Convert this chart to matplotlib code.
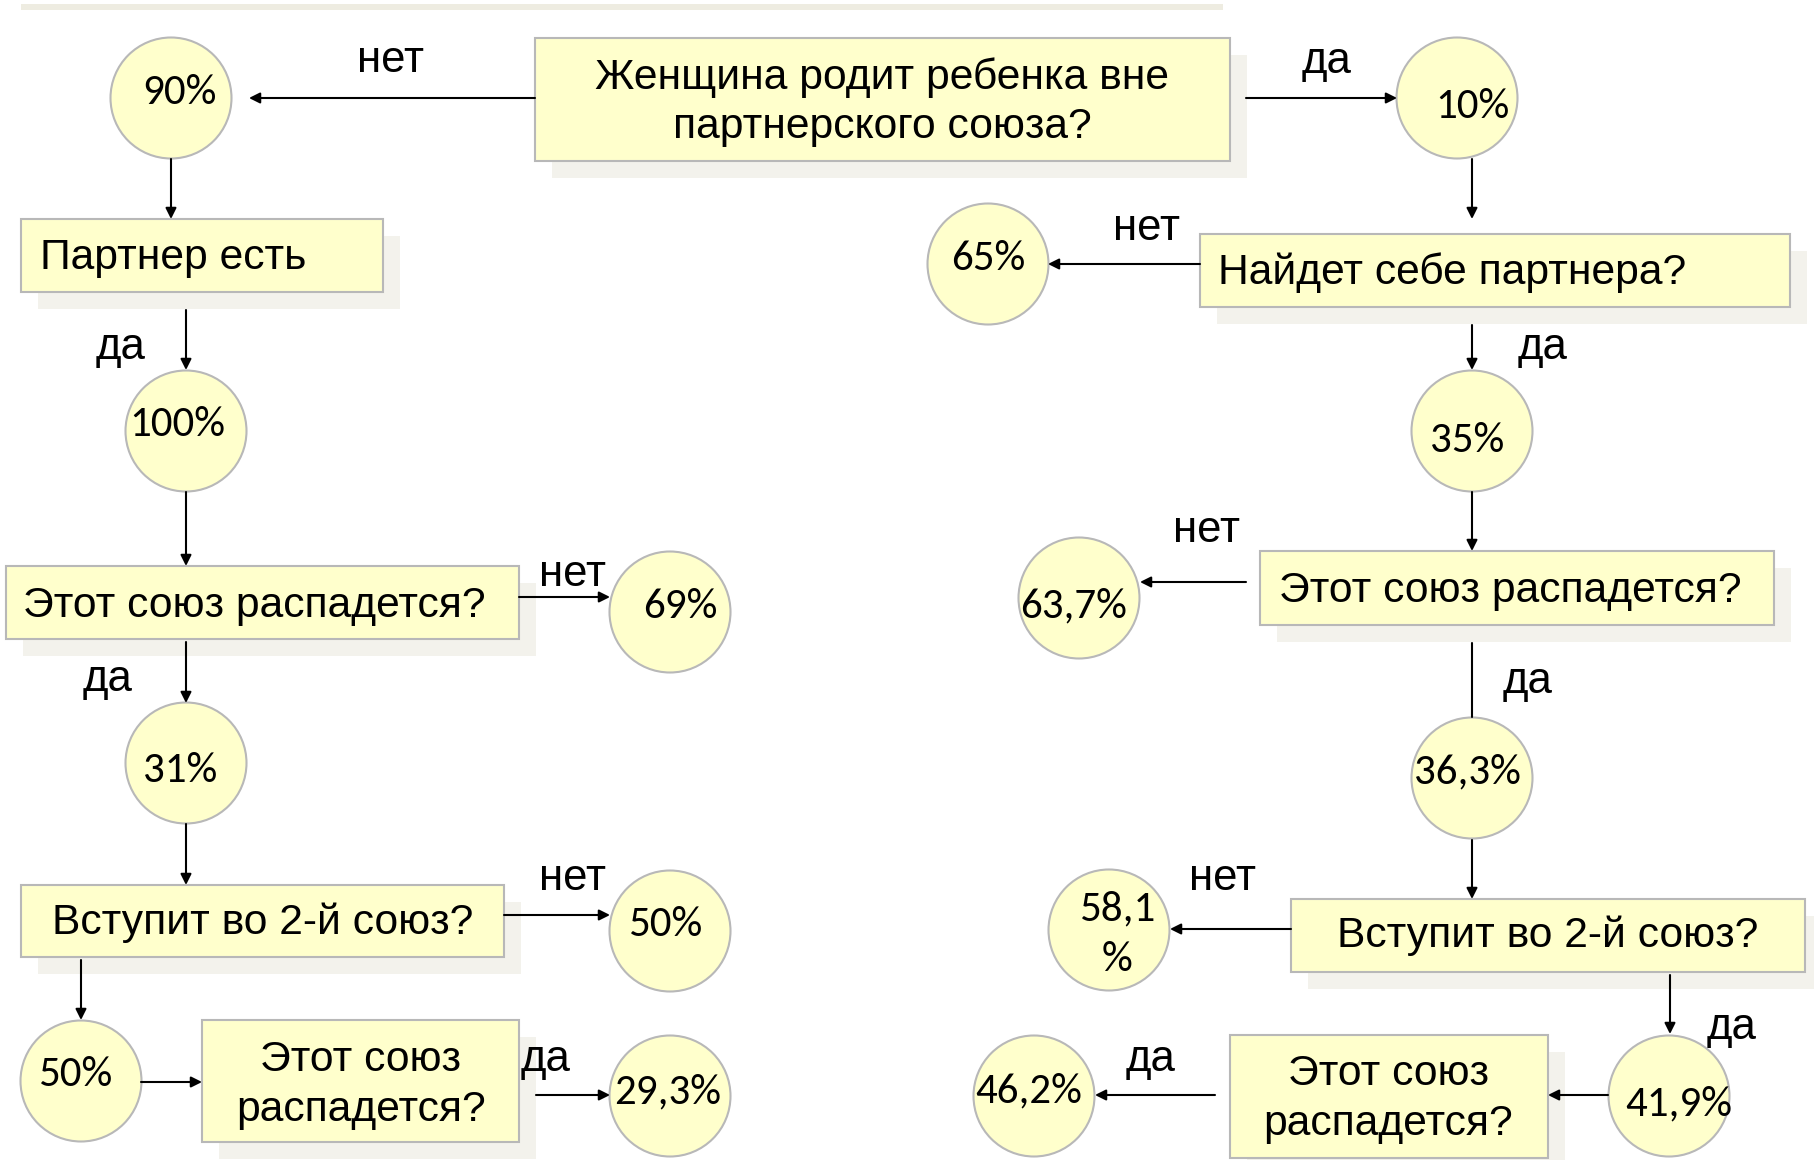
import matplotlib.pyplot as plt
import matplotlib.patches as mpatches

# text of the decision boxes
questions = ["Женщина родит ребенка вне\nпартнерского союза?",
             "Партнер есть",
             "Этот союз распадется?",
             "Вступит во 2-й союз?",
             "Этот союз\nраспадется?",
             "Найдет себе партнера?",
             "Этот союз распадется?",
             "Вступит во 2-й союз?",
             "Этот союз\nраспадется?"]

# percentages in the circles
shares = ["90%", "10%", "100%", "69%", "31%", "50%", "50%", "29,3%",
          "65%", "35%", "63,7%", "36,3%", "58,1\n%", "41,9%", "46,2%"]

# branch labels
answers = ["нет", "да", "да", "нет", "да", "нет", "да",
           "нет", "да", "нет", "да", "нет", "да", "да"]

# layout (pixels): box x0, y0, x1, y1, text x, text y, align
box_pos = [(535, 38, 1230, 161, 882, 99, "center"),
           (21, 219, 383, 292, 40, 255, "left"),
           (6, 566, 519, 639, 23, 603, "left"),
           (21, 885, 504, 957, 263, 920, "center"),
           (202, 1020, 519, 1142, 361, 1082, "center"),
           (1200, 234, 1790, 307, 1218, 270, "left"),
           (1260, 551, 1774, 625, 1279, 588, "left"),
           (1291, 899, 1805, 972, 1548, 933, "center"),
           (1230, 1035, 1548, 1158, 1388, 1096, "center")]

# circles: centre x, centre y, text x, text y
circ_pos = [(171, 98, 179, 89), (1457, 98, 1472, 104), (186, 431, 177, 421),
            (670, 612, 680, 603), (186, 763, 180, 768), (670, 931, 665, 922),
            (81, 1081, 75, 1071), (670, 1096, 668, 1089),
            (988, 264, 988, 256), (1472, 431, 1467, 437), (1079, 598, 1074, 603),
            (1472, 778, 1467, 769), (1109, 930, 1117, 931), (1669, 1096, 1679, 1101),
            (1034, 1096, 1029, 1088)]

ans_pos = [(391, 58), (1327, 58), (121, 345), (573, 572), (108, 677), (573, 876),
           (546, 1056), (1147, 226), (1543, 345), (1207, 528), (1528, 678),
           (1223, 876), (1732, 1025), (1151, 1056)]

# arrows: x0, y0, x1, y1, head
arrows = [(535, 98, 249, 98, True), (1246, 98, 1397, 98, True),
          (171, 159, 171, 219, True), (186, 310, 186, 370, True),
          (186, 492, 186, 566, True), (519, 597, 610, 597, True),
          (186, 642, 186, 703, True), (186, 824, 186, 885, True),
          (504, 915, 610, 915, True), (81, 960, 81, 1020, True),
          (141, 1082, 202, 1082, True), (536, 1095, 610, 1095, True),
          (1472, 159, 1472, 219, True), (1200, 264, 1048, 264, True),
          (1472, 325, 1472, 370, True), (1472, 492, 1472, 551, True),
          (1246, 582, 1140, 582, True), (1472, 643, 1472, 717, False),
          (1472, 840, 1472, 899, True), (1291, 929, 1170, 929, True),
          (1670, 975, 1670, 1034, True), (1608, 1095, 1548, 1095, True),
          (1215, 1095, 1095, 1095, True)]

FILL = "#ffffcc"
EDGE = "#b8b8b8"
SHADOW = "#f3f2ec"
BOXFONT = ["Liberation Sans", "DejaVu Sans"]
NUMFONT = ["Carlito", "Lato", "DejaVu Sans"]
DY = 3  # small downward nudge of all text

fig = plt.figure(figsize=(18.14, 11.6), dpi=100)
ax = fig.add_axes([0, 0, 1, 1])
ax.set_xlim(0, 1814)
ax.set_ylim(1160, 0)
ax.axis("off")

# thin band at the top
ax.add_patch(mpatches.Rectangle((21, 4), 1202, 6, facecolor="#eeece1", edgecolor="none"))

for txt, (x0, y0, x1, y1, tx, ty, ha) in zip(questions, box_pos):
    ax.add_patch(mpatches.Rectangle((x0 + 17, y0 + 17), x1 - x0, y1 - y0,
                                    facecolor=SHADOW, edgecolor="none", zorder=1))
    ax.add_patch(mpatches.Rectangle((x0, y0), x1 - x0, y1 - y0, facecolor=FILL,
                                    edgecolor=EDGE, linewidth=1.5, zorder=2))
    ax.text(tx, ty + DY, txt, ha=ha, va="center", fontsize=30.7, family=BOXFONT,
            linespacing=1.3, zorder=3, multialignment="center")

for txt, (cx, cy, tx, ty) in zip(shares, circ_pos):
    ax.add_patch(mpatches.Ellipse((cx, cy), 121, 121, facecolor=FILL,
                                  edgecolor=EDGE, linewidth=1.5, zorder=2))
    ax.text(tx, ty + DY, txt, ha="center", va="center", fontsize=31, family=NUMFONT,
            linespacing=1.45, zorder=3)

for txt, (x, y) in zip(answers, ans_pos):
    ax.text(x, y + DY, txt, ha="center", va="center", fontsize=31.5, family=BOXFONT, zorder=3)

for x0, y0, x1, y1, head in arrows:
    style = "-|>" if head else "-"
    ax.annotate("", xy=(x1, y1), xytext=(x0, y0),
                arrowprops=dict(arrowstyle=style, color="black", lw=1.5,
                                mutation_scale=16, shrinkA=0, shrinkB=0), zorder=4)

fig.savefig("out.png", dpi=100)
